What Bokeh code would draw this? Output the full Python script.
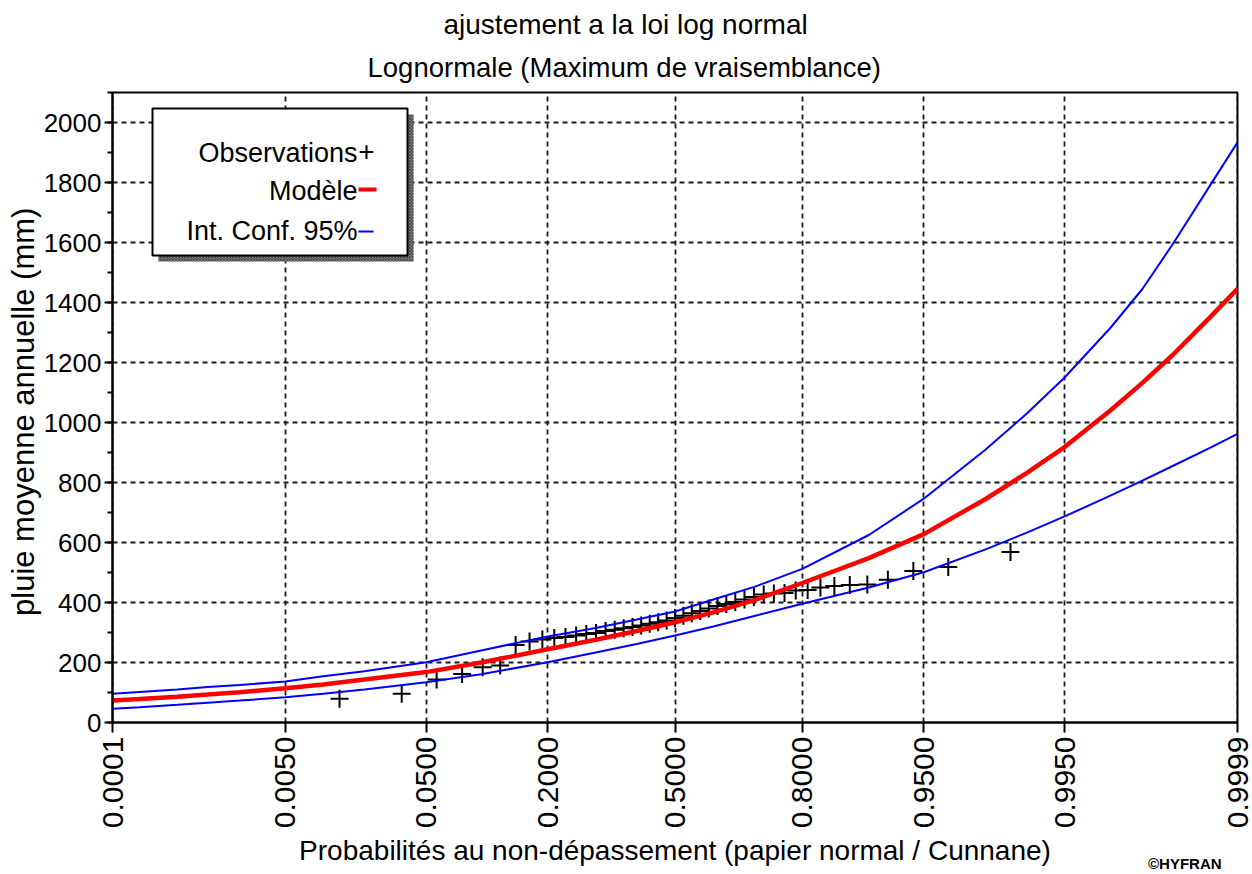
import math
from statistics import NormalDist
from bokeh.plotting import figure
from bokeh.layouts import column
from bokeh.models import (Range1d, FixedTicker, SingleIntervalTicker, Title, Div,
                          CustomJSTickFormatter, Label, BoxAnnotation)
from bokeh.embed import file_html
from bokeh.resources import INLINE

# ---------------- data ----------------
tick_probs = [0.0001, 0.005, 0.05, 0.2, 0.5, 0.8, 0.95, 0.995, 0.9999]
tick_labels = ["0.0001", "0.0050", "0.0500", "0.2000", "0.5000",
               "0.8000", "0.9500", "0.9950", "0.9999"]

curve_probs = [0.0001, 0.0002, 0.0005, 0.001, 0.002, 0.005, 0.01, 0.02, 0.05,
               0.1, 0.2, 0.3, 0.4, 0.5, 0.6, 0.7, 0.8, 0.9, 0.95, 0.98, 0.99,
               0.995, 0.998, 0.999, 0.9995, 0.9998, 0.9999]
model = [73, 78, 86, 93, 101, 114, 127, 143, 168, 200, 244, 276, 305, 334,
         367, 408, 465, 548, 628, 745, 832, 918, 1040, 1132, 1225, 1352, 1446]
ci_upper = [96, 102, 110, 118, 125, 137, 154, 171, 201, 240, 287, 315, 343,
            370, 410, 452, 512, 625, 746, 910, 1030, 1150, 1315, 1445, 1594,
            1792, 1934]
ci_lower = [46, 51, 59, 66, 73, 84, 96, 110, 134, 161, 201, 233, 262, 290,
            320, 355, 396, 450, 501, 577, 633, 687, 756, 806, 855, 916, 962]

observations = [79, 96, 143, 162, 184, 190, 258, 270, 277, 282, 285, 290, 295,
                298, 305, 309, 314, 318, 323, 329, 334, 340, 348, 356, 364,
                372, 380, 388, 395, 402, 410, 418, 427, 430, 432, 440, 442,
                450, 455, 458, 460, 476, 505, 518, 568]

# ---------------- normal probability paper ----------------
ND = NormalDist()
def zq(p):
    return ND.inv_cdf(p)

n_obs = len(observations)
obs_probs = [(i + 1 - 0.4) / (n_obs + 0.2) for i in range(n_obs)]  # Cunnane
obs_x = [zq(p) for p in obs_probs]
curve_x = [zq(p) for p in curve_probs]
tick_z = [zq(p) for p in tick_probs]

FONT = "Liberation Sans"

p = figure(width=1252, height=869, output_backend="svg", toolbar_location=None,
           x_range=Range1d(tick_z[0] - 1e-9, tick_z[-1] + 1e-9),
           y_range=Range1d(0, 2100),
           min_border_left=112, min_border_right=15,
           min_border_top=92, min_border_bottom=147)
p.background_fill_color = "white"
p.border_fill_color = "white"
p.outline_line_color = "black"
p.outline_line_width = 2

# titles: p.title is the outer line, the added Title sits next to the frame
p.title.text = "ajustement a la loi log normal"
p.title.align = "left"
p.title.offset = 331
p.title.standoff = 2
p.title.text_font = FONT
p.title.text_font_size = "28px"
p.title.text_font_style = "normal"
p.title.text_color = "black"
p.add_layout(Title(text="Lognormale (Maximum de vraisemblance)", align="left", offset=255,
                   standoff=19, text_font=FONT, text_font_size="27.5px",
                   text_font_style="normal", text_color="black"), "above")

# axes
p.xaxis.ticker = FixedTicker(ticks=tick_z)
p.xaxis.formatter = CustomJSTickFormatter(args=dict(zs=tick_z, labels=tick_labels), code="""
let best = 0;
for (let i = 0; i < zs.length; i++) {
  if (Math.abs(zs[i] - tick) < Math.abs(zs[best] - tick)) best = i;
}
return labels[best];
""")
p.xaxis.major_label_orientation = math.pi / 2
p.xaxis.major_tick_out = 10
p.xaxis.major_tick_in = 0
p.xaxis.major_label_standoff = 4
p.xaxis.major_label_text_font_size = "30px"
p.xaxis.axis_label = "Probabilités au non-dépassement (papier normal / Cunnane)"
p.xaxis.axis_label_text_font_size = "28px"
p.xaxis.axis_label_standoff = 4

p.yaxis.ticker = SingleIntervalTicker(interval=200, num_minor_ticks=2)
p.yaxis.major_tick_out = 8
p.yaxis.major_tick_in = 0
p.yaxis.minor_tick_out = 5
p.yaxis.minor_tick_in = 0
p.yaxis.major_label_standoff = 3
p.yaxis.major_label_text_font_size = "26px"
p.yaxis.axis_label = "pluie moyenne annuelle  (mm)"
p.yaxis.axis_label_text_font_size = "31px"
p.yaxis.axis_label_standoff = 0

for ax in (p.xaxis, p.yaxis):
    ax.axis_line_width = 2
    ax.axis_line_color = "black"
    ax.major_tick_line_color = "black"
    ax.major_tick_line_width = 2
    ax.minor_tick_line_color = "black"
    ax.minor_tick_line_width = 2
    ax.major_label_text_font = FONT
    ax.major_label_text_color = "black"
    ax.axis_label_text_font = FONT
    ax.axis_label_text_font_style = "normal"
    ax.axis_label_text_color = "black"

for g in (p.xgrid, p.ygrid):
    g.grid_line_color = "#1a1a1a"
    g.grid_line_dash = "5 4"
    g.grid_line_width = 1.8

# data
p.scatter(obs_x, observations, marker="cross", size=18,
          line_color="black", line_width=2)
p.line(curve_x, ci_upper, line_color="#0000ff", line_width=2)
p.line(curve_x, ci_lower, line_color="#0000ff", line_width=2)
p.line(curve_x, model, line_color="#ff0000", line_width=4.5)

# helper: picture pixel -> frame screen units (frame left=112, bottom=722)
def sx(ix):
    return ix - 112
def sy(iy):
    return 722 - iy

def add_label(ix, iy, text, size, align="center"):
    p.add_layout(Label(x=sx(ix), y=sy(iy), x_units="screen", y_units="screen",
                       text=text, text_font=FONT, text_font_size=size,
                       text_align=align, text_baseline="middle",
                       text_color="black"))

def add_box(l, r, t, b, **kw):
    p.add_layout(BoxAnnotation(left=sx(l), right=sx(r), top=sy(t), bottom=sy(b),
                               left_units="screen", right_units="screen",
                               top_units="screen", bottom_units="screen", **kw))

# legend box with shadow
add_box(158, 413, 114, 261, fill_color="#777777", fill_alpha=1, line_alpha=0,
        hatch_pattern="diagonal_cross", hatch_color="#333333",
        hatch_scale=3, hatch_alpha=0.6)
add_box(152, 407, 108, 255, fill_color="white", fill_alpha=1,
        line_color="black", line_width=2, line_alpha=1)
add_label(357, 152, "Observations", "27px", align="right")
add_label(366, 151, "+", "28px")
add_label(357, 190, "Modèle", "27px", align="right")
add_label(357, 230, "Int. Conf. 95%", "27px", align="right")
add_box(358, 376, 187, 191, fill_color="#ff0000", fill_alpha=1, line_alpha=0)
add_box(358, 373, 230, 232, fill_color="#0000ff", fill_alpha=1, line_alpha=0)

credit = Div(text="©HYFRAN", width=100, height=18, margin=(-14, 0, 0, 1148),
             styles={"font-family": FONT, "font-weight": "bold",
                     "font-size": "15px", "color": "black", "line-height": "18px"})

layout = column(p, credit, spacing=0)
open("out.html", "w").write(file_html(layout, INLINE))
